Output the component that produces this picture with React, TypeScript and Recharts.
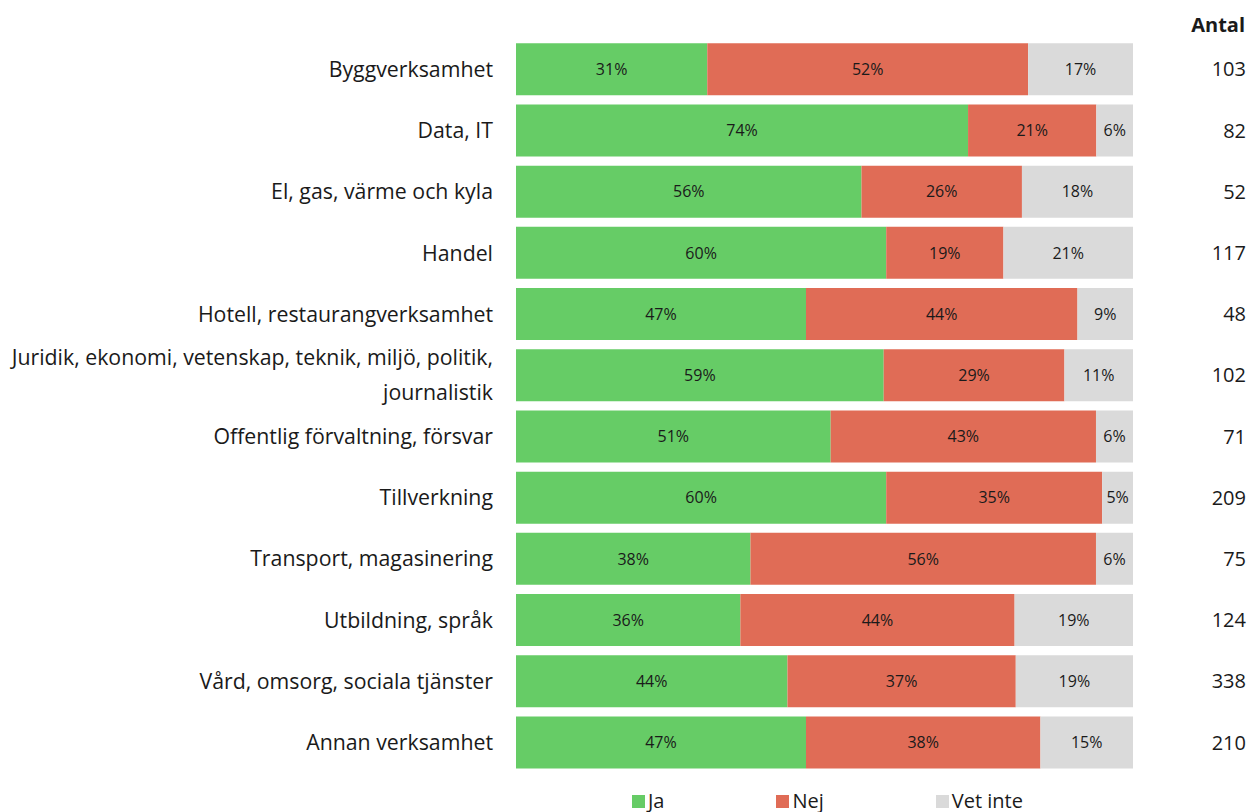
import React from 'react';
import { BarChart, Bar, XAxis, YAxis, LabelList, Legend } from 'recharts';

const categories = [
  'Byggverksamhet',
  'Data, IT',
  'El, gas, värme och kyla',
  'Handel',
  'Hotell, restaurangverksamhet',
  'Juridik, ekonomi, vetenskap, teknik, miljö, politik, journalistik',
  'Offentlig förvaltning, försvar',
  'Tillverkning',
  'Transport, magasinering',
  'Utbildning, språk',
  'Vård, omsorg, sociala tjänster',
  'Annan verksamhet',
];
const ja = [31, 74, 56, 60, 47, 59, 51, 60, 38, 36, 44, 47];
const nej = [52, 21, 26, 19, 44, 29, 43, 35, 56, 44, 37, 38];
const vetInte = [17, 6, 18, 21, 9, 11, 6, 5, 6, 19, 19, 15];
const antal = [103, 82, 52, 117, 48, 102, 71, 209, 75, 124, 338, 210];

const seriesNames = { ja: 'Ja', nej: 'Nej', vet: 'Vet inte' };
const colors = { ja: '#66CC66', nej: '#E06C56', vet: '#DADADA' };

const data = categories.map((name, i) => ({
  name,
  ja: ja[i],
  nej: nej[i],
  vet: vetInte[i],
  antal: antal[i],
}));

const FONT = '"Open Sans", sans-serif';
const TEXT = '#1a1a1a';

const LeftTick = (props: any) => {
  const { x, y, payload } = props;
  const s: string = payload.value;
  let lines = [s];
  if (s.length > 45) {
    const idx = s.lastIndexOf(', ');
    lines = [s.slice(0, idx + 1), s.slice(idx + 2)];
  }
  const lh = 35;
  const start = -((lines.length - 1) * lh) / 2;
  return (
    <text x={x} y={y} textAnchor="end" fontFamily={FONT} fontSize={21.3} fill={TEXT}>
      {lines.map((l, i) => (
        <tspan key={i} x={x} y={y + start + i * lh} dy="0.36em">
          {l}
        </tspan>
      ))}
    </text>
  );
};

const RightTick = (props: any) => {
  const { x, y, payload } = props;
  const row = data.find((d) => d.name === payload.value);
  return (
    <text x={x} y={y} dy="0.36em" textAnchor="end" fontFamily={FONT} fontSize={20} fill={TEXT}>
      {row ? row.antal : ''}
    </text>
  );
};

const renderLegend = (props: any) => {
  const { payload } = props;
  return (
    <div
      style={{
        display: 'flex',
        justifyContent: 'center',
        gap: 112,
        fontFamily: FONT,
        fontSize: 20,
        color: TEXT,
        height: 36,
        alignItems: 'flex-end',
        lineHeight: '22px',
        paddingLeft: 6,
      }}
    >
      {payload.map((p: any) => (
        <div key={p.value} style={{ display: 'flex', alignItems: 'center' }}>
          <span style={{ display: 'inline-block', width: 13, height: 13, background: p.color, marginRight: 3 }} />
          <span>{p.value}</span>
        </div>
      ))}
    </div>
  );
};

const pct = (v: any) => `${v}%`;

export default function App() {
  return (
    <div style={{ position: 'absolute', left: 0, top: 0, width: 1249, height: 812, background: '#fff' }}>
      <div
        style={{
          position: 'absolute',
          right: 4,
          top: 11,
          fontFamily: FONT,
          fontSize: 20,
          fontWeight: 700,
          color: TEXT,
          lineHeight: '28px',
        }}
      >
        Antal
      </div>
      <BarChart
        width={1249}
        height={812}
        data={data}
        layout="vertical"
        stackOffset="expand"
        barCategoryGap="7.5%"
        margin={{ top: 38.7, right: 0, bottom: 3, left: 0 }}
      >
        <XAxis type="number" hide domain={[0, 1]} />
        <YAxis
          yAxisId="left"
          type="category"
          dataKey="name"
          width={516}
          axisLine={false}
          tickLine={false}
          tickSize={0}
          tickMargin={23}
          interval={0}
          tick={<LeftTick />}
        />
        <YAxis
          yAxisId="right"
          orientation="right"
          type="category"
          dataKey="name"
          width={116}
          axisLine={false}
          tickLine={false}
          tickSize={0}
          tickMargin={113}
          interval={0}
          tick={<RightTick />}
        />
        <Legend verticalAlign="bottom" content={renderLegend} wrapperStyle={{ left: 516, width: 617, bottom: 0 }} />
        {(['ja', 'nej', 'vet'] as const).map((k) => (
          <Bar
            key={k}
            yAxisId="left"
            dataKey={k}
            name={seriesNames[k]}
            stackId="a"
            fill={colors[k]}
            isAnimationActive={false}
          >
            <LabelList
              dataKey={k}
              position="center"
              formatter={pct}
              fontFamily={FONT}
              fontSize={16}
              fill={TEXT}
            />
          </Bar>
        ))}
      </BarChart>
    </div>
  );
}
